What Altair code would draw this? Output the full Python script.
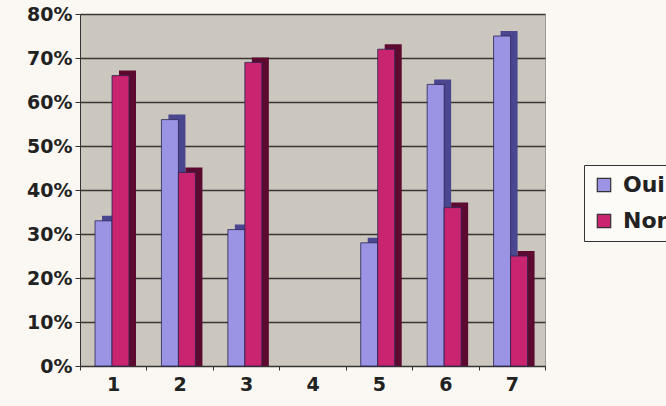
import altair as alt
import pandas as pd

categories = ["1", "2", "3", "4", "5", "6", "7"]
oui = [33, 56, 31, None, 28, 64, 75]
non = [66, 44, 69, None, 72, 36, 25]
series = ["Oui", "Non"]
front_colors = ["#9b93e4", "#c92470"]
side_colors = ["#4b4690", "#5c0a2f"]

rows = []
for c, o, n in zip(categories, oui, non):
    if o is not None:
        rows.append({"cat": c, "serie": "Oui", "val": o / 100})
    if n is not None:
        rows.append({"cat": c, "serie": "Non", "val": n / 100})
df = pd.DataFrame(rows)

FONT = "DejaVu Sans"

x = alt.X("cat:N", sort=categories, scale=alt.Scale(domain=categories, paddingInner=0, paddingOuter=0),
          axis=alt.Axis(title=None, labelAngle=0, labelFont=FONT, labelFontWeight="bold",
                        labelFontSize=19, labelColor="#222", labelPadding=5, tickBand="extent",
                        tickColor="#333", tickSize=4, domainColor="#333", grid=False))
y = alt.Y("val:Q", scale=alt.Scale(domain=[0, 0.8], nice=False),
          axis=alt.Axis(title=None, format=".0%", values=[i / 10 for i in range(9)],
                        labelFont=FONT, labelFontWeight="bold", labelFontSize=19,
                        labelColor="#222", labelPadding=3, tickColor="#333", tickSize=5,
                        domainColor="#333", gridColor="#3a3530", gridWidth=1.3))

side = alt.Chart(df).mark_bar(yOffset=-5, y2Offset=0).encode(
    x=x,
    xOffset=alt.XOffset("serie:N", sort=series,
                        scale=alt.Scale(domain=series, range=[22, 56], paddingInner=0, paddingOuter=0)),
    y=y, y2=alt.datum(0),
    color=alt.Color("serie:N", scale=alt.Scale(domain=series, range=side_colors), legend=None),
)
front = alt.Chart(df).mark_bar(stroke="#2a2550", strokeWidth=0.8).encode(
    x=x,
    xOffset=alt.XOffset("serie:N", sort=series,
                        scale=alt.Scale(domain=series, range=[15, 49], paddingInner=0, paddingOuter=0)),
    y=y,
    color=alt.Color("serie:N", sort=series, scale=alt.Scale(domain=series, range=front_colors),
                    legend=alt.Legend(title=None, orient="none", legendX=504, legendY=151,
                                      direction="vertical", symbolType="square", symbolSize=180,
                                      symbolStrokeColor="#333", symbolStrokeWidth=1.2,
                                      labelFont=FONT, labelFontWeight="bold", labelFontSize=22,
                                      labelColor="#222", labelOffset=8, rowPadding=14, padding=9,
                                      strokeColor="#333", fillColor="#fdfbf8", labelLimit=200)),
)

chart = alt.layer(side, front).resolve_scale(color="independent", xOffset="independent").properties(
    width=465, height=352,
    padding={"left": 80, "top": 14, "right": 121, "bottom": 40},
    autosize=alt.AutoSizeParams(type="none"),
    background="#fbf8f3",
).configure_view(fill="#cbc7bf", stroke="#9a9690", strokeWidth=1)

chart.save("out.html", embed_options={"renderer": "svg", "actions": False})
